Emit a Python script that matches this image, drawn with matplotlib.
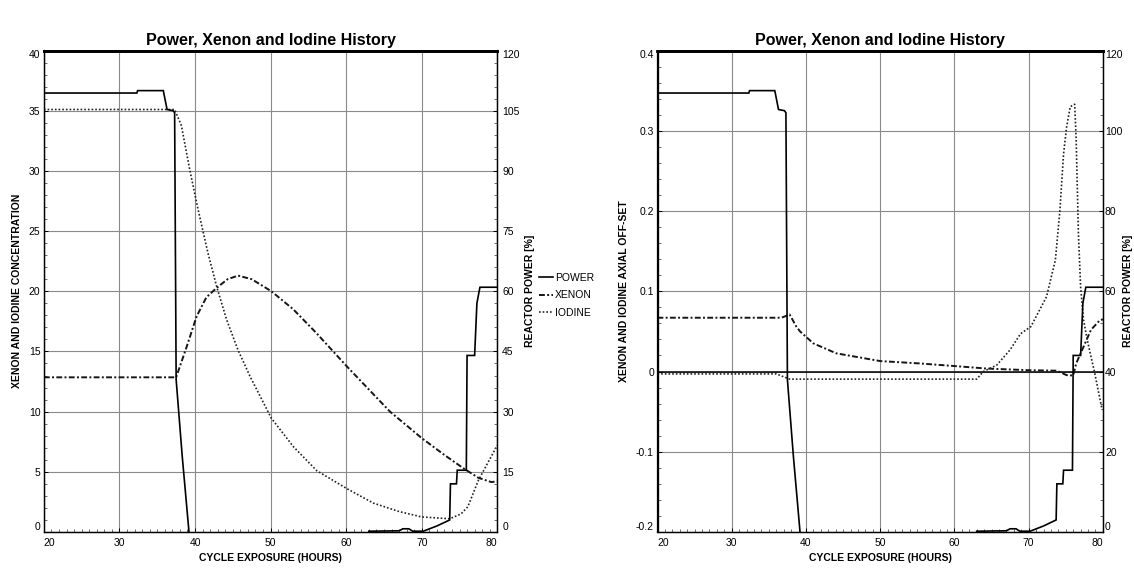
import numpy as np
import matplotlib
matplotlib.use("Agg")
import matplotlib.pyplot as plt
from matplotlib.ticker import MultipleLocator

plt.rcParams['font.family'] = ['Liberation Sans', 'DejaVu Sans']

nan = np.nan

# ---------------- data ----------------
# Reactor power history (% , right axis of both panels)
power_hours = [20, 32.3, 32.4, 35.8, 36.3, 37.1, 37.3, 37.5, 38.3, 39.2, nan,
               63.0, 67.0, 67.5, 68.3, 68.8, 70.2, 72.0, 73.7, 73.8, 74.6, 74.7,
               75.9, 76.0, 77.0, 77.3, 77.7, 80.0]
power_pct = [109.4, 109.4, 110.0, 110.0, 105.3, 105.0, 104.5, 38.0, 19.0, 0.0, nan,
             0.2, 0.3, 0.8, 0.8, 0.2, 0.2, 1.5, 3.0, 12.0, 12.0, 15.4,
             15.4, 44.0, 44.0, 57.0, 61.0, 61.0]

# Xenon concentration (left panel, left axis)
xe_hours = [20, 37.5, 38.9, 40.2, 41.5, 42.9, 44.3, 45.7, 47.5, 50.1, 53.0, 56.1,
            60.1, 65.8, 70.0, 73.0, 75.5, 77.5, 79.2, 80]
xe_conc = [12.85, 12.85, 15.4, 17.9, 19.5, 20.3, 21.0, 21.3, 21.0, 20.0, 18.5, 16.5,
           13.75, 10.0, 7.8, 6.4, 5.3, 4.5, 4.15, 4.2]

# Iodine concentration (left panel, left axis)
io_hours = [20, 37.3, 38.2, 39.3, 40.4, 41.7, 42.9, 44.2, 45.7, 47.3, 50.1, 53.0,
            56.1, 60.1, 63.6, 67.0, 70.0, 73.7, 75.2, 76.1, 77.5, 80]
io_conc = [35.1, 35.1, 33.75, 30.1, 26.8, 23.2, 20.3, 17.6, 15.1, 12.9, 9.45, 7.1,
           5.1, 3.6, 2.4, 1.7, 1.25, 1.1, 1.5, 2.1, 4.3, 7.2]

# Xenon axial offset (right panel, left axis)
xe_ao_hours = [20, 36.7, 37.8, 38.7, 39.2, 41.0, 44.1, 50.0, 55.4, 60.0, 64.3, 70.0,
               73.8, 75.1, 76.0, 76.4, 77.4, 78.4, 79.6, 80]
xe_ao = [0.067, 0.067, 0.071, 0.056, 0.050, 0.035, 0.0226, 0.013, 0.010, 0.0068,
         0.0037, 0.0016, 0.001, -0.0045, -0.005, 0.010, 0.031, 0.052, 0.064, 0.065]

# Iodine axial offset (right panel, left axis)
io_ao_hours = [20, 36.0, 37.8, 63.0, 63.9, 65.7, 67.5, 68.9, 70.3, 72.4, 73.6, 74.2,
               74.7, 75.1, 75.6, 76.2, 76.4, 76.7, 77.0, 77.4, 77.9, 78.9, 79.9]
io_ao = [-0.003, -0.003, -0.0095, -0.0095, 0.0, 0.008, 0.027, 0.047, 0.056, 0.093,
         0.139, 0.200, 0.271, 0.304, 0.330, 0.333, 0.288, 0.172, 0.105, 0.064,
         0.039, -0.002, -0.048]

x_ticks = [20, 30, 40, 50, 60, 70, 80]
conc_ticks = [0, 5, 10, 15, 20, 25, 30, 35, 40]
power_ticks_left = [0, 15, 30, 45, 60, 75, 90, 105, 120]
ao_ticks = [-0.2, -0.1, 0, 0.1, 0.2, 0.3, 0.4]
ao_tick_labels = ['-0.2', '-0.1', '0', '0.1', '0.2', '0.3', '0.4']
power_ticks_right = [0, 20, 40, 60, 80, 100, 120]

title = 'Power, Xenon and Iodine History'
xlabel = 'CYCLE EXPOSURE (HOURS)'

# ---------------- figure ----------------
W, H = 1134, 578
fig = plt.figure(figsize=(W / 100, H / 100), dpi=100)
fig.patch.set_facecolor('white')

top_px, bot_px = 50.5, 532.0
axL = fig.add_axes([43.9 / W, 1 - bot_px / H, (497.3 - 43.9) / W, (bot_px - top_px) / H])
axR = fig.add_axes([657.5 / W, 1 - bot_px / H, (1102.9 - 657.5) / W, (bot_px - top_px) / H])
axLr = axL.twinx()
axRr = axR.twinx()

TFS = 7.5
pw_style = dict(color='black', lw=1.2, solid_joinstyle='miter')
xe_style = dict(color='#151515', lw=1.4, linestyle=(0, (3.0, 1.2, 1.0, 1.2)))
io_style = dict(color='#222222', lw=1.2, linestyle=(0, (1.0, 1.2)))

# left panel
l_xe, = axL.plot(xe_hours, xe_conc, **xe_style)
l_io, = axL.plot(io_hours, io_conc, **io_style)
l_pw, = axLr.plot(power_hours, power_pct, **pw_style)

# right panel
axR.axhline(0, color='black', lw=1.1)
axR.plot(xe_ao_hours, xe_ao, **xe_style)
axR.plot(io_ao_hours, io_ao, **io_style)
axRr.plot(power_hours, power_pct, **pw_style)


def style_axes(ax, axr, yticks, ylim, yminor, rticks, rlim, rminor, ylab, ylabx, rlabx,
               rpad, ytl=None):
    ax.set_xlim(20, 80)
    ax.set_ylim(*ylim)
    axr.set_ylim(*rlim)
    ax.set_xticks(x_ticks)
    ax.set_yticks(yticks)
    if ytl is not None:
        ax.set_yticklabels(ytl)
    axr.set_yticks(rticks)
    ax.xaxis.set_minor_locator(MultipleLocator(1))
    ax.yaxis.set_minor_locator(MultipleLocator(yminor))
    axr.yaxis.set_minor_locator(MultipleLocator(rminor))
    ax.grid(True, which='major', color='#8a8a8a', lw=0.8)
    ax.set_axisbelow(True)
    for a in (ax, axr):
        a.tick_params(which='major', direction='in', length=3, width=0.7,
                      labelsize=TFS, colors='black')
        a.tick_params(which='minor', direction='in', length=2.5, width=0.6, color='#555555')
        for s in a.spines.values():
            s.set_color('black')
            s.set_linewidth(0.9)
        a.spines['top'].set_linewidth(2.0)
    ax.tick_params(axis='x', pad=4.5)
    ax.tick_params(axis='y', pad=2.5)
    axr.tick_params(axis='y', pad=rpad)
    # keep edge labels inside the frame
    xt = ax.xaxis.get_major_ticks()
    xt[0].label1.set_horizontalalignment('left')
    xt[-1].label1.set_horizontalalignment('right')
    for a in (ax, axr):
        yt = a.yaxis.get_major_ticks()
        yt[0].label1.set_verticalalignment('bottom')
        yt[0].label2.set_verticalalignment('bottom')
        yt[-1].label1.set_verticalalignment('top')
        yt[-1].label2.set_verticalalignment('top')
    ax.set_title(title, fontsize=11.5, fontweight='bold', pad=4)
    ax.set_xlabel(xlabel, fontsize=TFS, fontweight='bold')
    ax.xaxis.set_label_coords(0.5, -0.043)
    ax.set_ylabel(ylab, fontsize=TFS, fontweight='bold')
    ax.yaxis.set_label_coords(ylabx, 0.5)
    axr.set_ylabel('REACTOR POWER [%]', fontsize=TFS, fontweight='bold')
    axr.yaxis.set_label_coords(rlabx, 0.5)


style_axes(axL, axLr, conc_ticks, (0, 40), 1, power_ticks_left, (0, 120), 3,
           'XENON AND IODINE CONCENTRATION', -0.048, 1.062, 3.5)
style_axes(axR, axRr, ao_ticks, (-0.2, 0.4), 0.02, power_ticks_right, (0, 120), 4,
           'XENON AND IODINE AXIAL OFF-SET', -0.064, 1.046, 1.5, ytl=ao_tick_labels)

fig.legend([l_pw, l_xe, l_io], ['POWER', 'XENON', 'IODINE'],
           loc='upper left', bbox_to_anchor=(539 / W, 1 - 273 / H),
           frameon=False, fontsize=TFS, handlelength=1.3, handletextpad=0.2,
           labelspacing=0.7, borderpad=0, borderaxespad=0)

fig.savefig('out.png', dpi=100, facecolor='white')
